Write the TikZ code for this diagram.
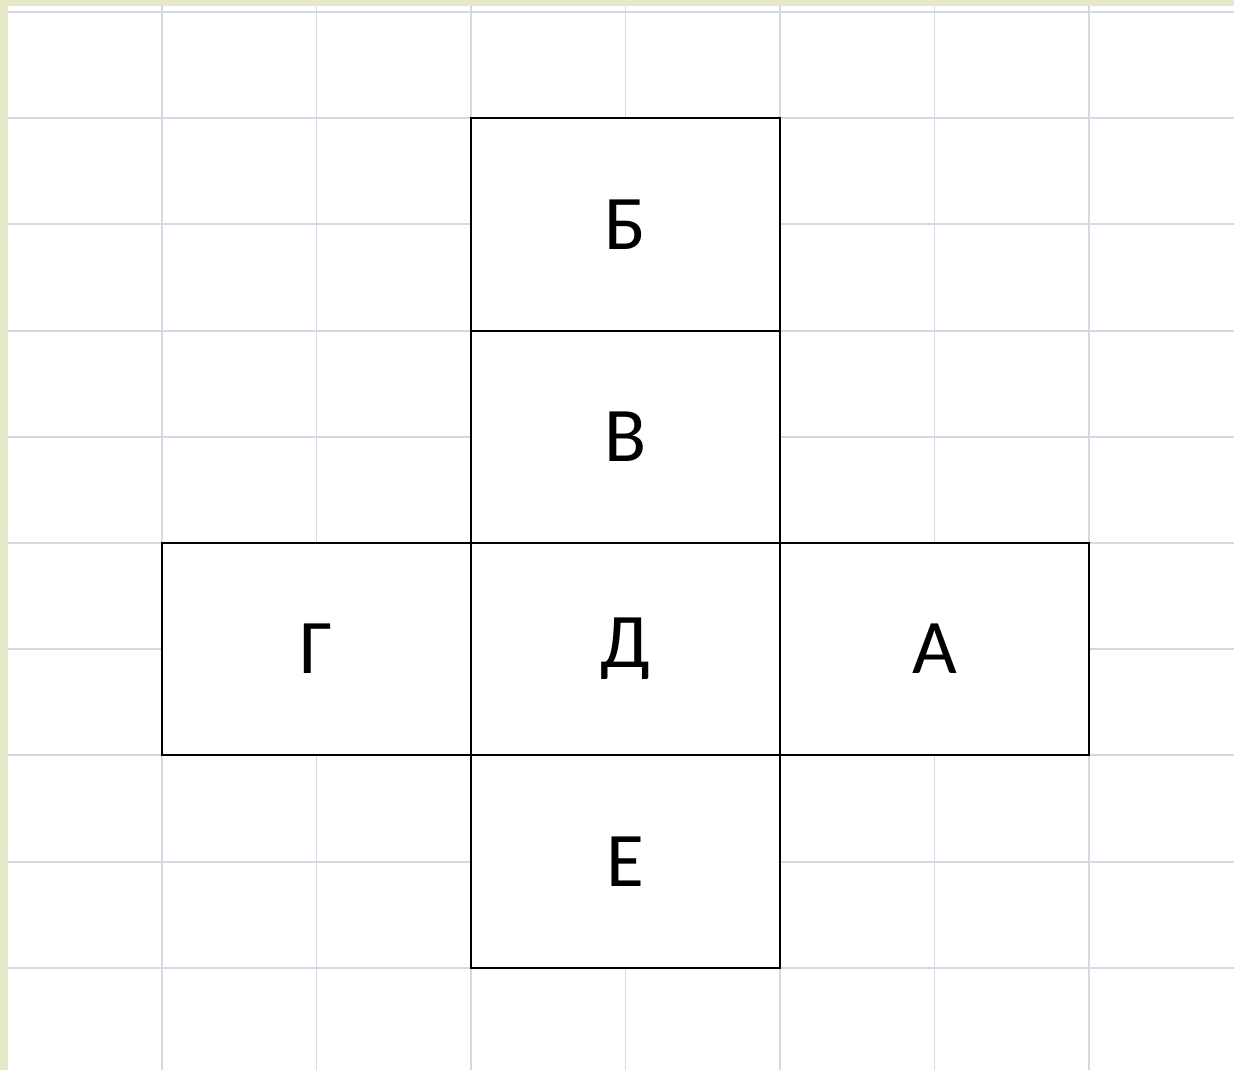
\documentclass[tikz,border=0pt]{standalone}
\usepackage{fontspec}
\setmainfont{Carlito}
\usepackage{tikz}
\usetikzlibrary{positioning}
\usepackage{xcolor}
\definecolor{pagebeige}{RGB}{231,232,199}
\definecolor{gridgray}{RGB}{214,216,226}

\begin{document}
\begin{tikzpicture}[x=0.02cm, y=-0.02cm,
    face/.style={draw=black, line width=1.1pt, fill=white, outer sep=0pt,
      minimum width=6.18cm, minimum height=4.248cm, inner sep=0pt,
      font=\fontsize{44}{50}\selectfont},
    gridline/.style={gridgray, line width=1.1pt}]
      \useasboundingbox (0,0) rectangle (1234,1070);
      \fill[pagebeige] (0,0) rectangle (1234,1070);
      \fill[white] (8,6) rectangle (1234,1070);
      % squared paper
      \foreach \k in {0,...,6}
        \draw[gridline] ({162+154.5*\k},6) -- ({162+154.5*\k},1070);
      \foreach \k in {0,...,9}
        \draw[gridline] (8,{12+106.2*\k}) -- (1234,{12+106.2*\k});
      % net of the cube
      \node[face] (d) at (625.5,649.2) {Д};
      \node[face, above=0pt of d] (v) {В};
      \node[face, above=0pt of v] (b) {Б};
      \node[face, left=0pt of d] (g) {Г};
      \node[face, right=0pt of d] (a) {А};
      \node[face, below=0pt of d] (e) {Е};
    \end{tikzpicture}
\end{document}
